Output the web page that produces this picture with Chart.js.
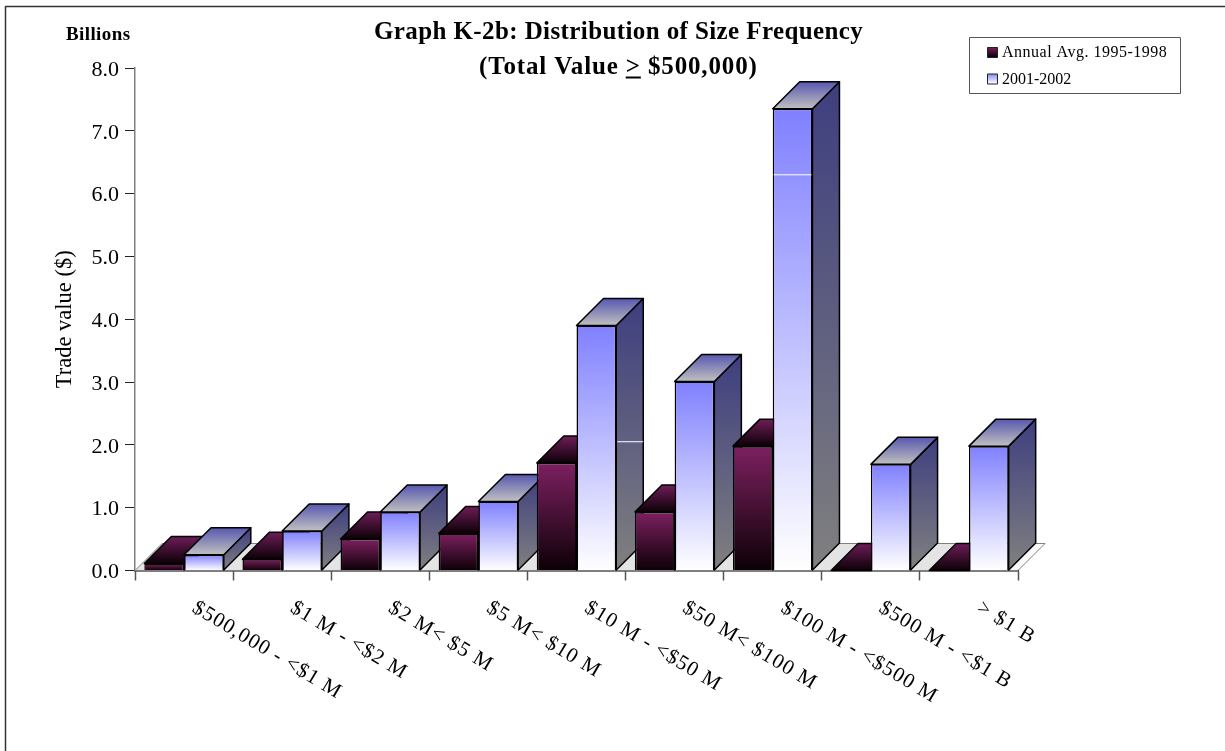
<!DOCTYPE html>
<html>
<head>
<meta charset="utf-8">
<title>Graph K-2b</title>
<script src="https://cdn.jsdelivr.net/npm/chart.js@4/dist/chart.umd.min.js"></script>
<style>
  html, body { margin: 0; padding: 0; background: #fff; }
  canvas { display: block; }
</style>
</head>
<body>
<canvas id="plot" width="1225" height="751"></canvas>
<script>
const categories = ['$500,000 - <$1 M', '$1 M - <$2 M', '$2 M< $5 M', '$5 M< $10 M', '$10 M - <$50 M', '$50 M< $100 M', '$100 M - <$500 M', '$500 M - <$1 B', '> $1 B'];
const avg9598 = [0.11, 0.18, 0.50, 0.59, 1.71, 0.93, 1.98, 0.0, 0.0];
const val0102 = [0.25, 0.63, 0.93, 1.10, 3.90, 3.01, 7.35, 1.69, 1.98];
const seriesNames = ['Annual Avg. 1995-1998', '2001-2002'];

const serif = '"Liberation Serif", "Times New Roman", serif';
const depth = 27;

const faces = [
    { front: ['#7d2060', '#0c0006'], side: ['#4a1a40', '#1a0814'], top: ['#6e1d58', '#0c0006'] },
    { front: ['#8080ff', '#ffffff'], side: ['#3e3e80', '#808080'], top: ['#5858b0', '#c0c0c0'] }
];

function vGrad(ctx, top, bottom, c0, c1) {
    const g = ctx.createLinearGradient(0, top, 0, bottom);
    g.addColorStop(0, c0);
    g.addColorStop(1, c1);
    return g;
}

function poly(ctx, pts, fill, stroke, lw) {
    ctx.beginPath();
    pts.forEach((p, i) => i ? ctx.lineTo(p[0], p[1]) : ctx.moveTo(p[0], p[1]));
    ctx.closePath();
    if (fill) { ctx.fillStyle = fill; ctx.fill(); }
    if (stroke) { ctx.strokeStyle = stroke; ctx.lineWidth = lw; ctx.stroke(); }
}

// front gradient runs from the top of each bar to the axis
function frontFill(k) {
    return (c) => {
        const y = c.chart.scales.y;
        if (c.raw === undefined || !y) return faces[k].front[0];
        const top = y.getPixelForValue(c.raw), bottom = y.getPixelForValue(0);
        if (!Number.isFinite(top) || !Number.isFinite(bottom)) return faces[k].front[0];
        return vGrad(c.chart.ctx, top, bottom, faces[k].front[0], faces[k].front[1]);
    };
}

// top and side faces for one bar, the front comes from the bar element itself
function drawBar(ctx, bar, colors) {
    const p = bar.getProps(['x', 'y', 'base', 'width']);
    const l = p.x - p.width / 2, r = p.x + p.width / 2;
    ctx.lineJoin = 'round';
    poly(ctx, [[r, p.y], [r + depth, p.y - depth], [r + depth, p.base - depth], [r, p.base]],
        vGrad(ctx, p.y - depth, p.base, colors.side[0], colors.side[1]), '#000', 1.5);
    poly(ctx, [[l, p.y], [l + depth, p.y - depth], [r + depth, p.y - depth], [r, p.y]],
        vGrad(ctx, p.y - depth, p.y, colors.top[0], colors.top[1]), '#000', 1.5);
    bar.draw(ctx);
}

const bars3d = {
    id: 'bars3d',
    beforeDatasetsDraw(chart) {
        const ctx = chart.ctx;
        const a = chart.chartArea;
        const metas = [chart.getDatasetMeta(0), chart.getDatasetMeta(1)];

        // floor, it fades out past the last group
        const floor = ctx.createLinearGradient(a.left, 0, a.right + depth, 0);
        floor.addColorStop(0, '#e4e4e4');
        floor.addColorStop(0.95, '#e4e4e4');
        floor.addColorStop(0.951, '#fafafa');
        poly(ctx, [[a.left, a.bottom], [a.left + depth, a.bottom - depth], [a.right + depth, a.bottom - depth], [a.right, a.bottom]], floor, '#808080', 1);

        // left to right so nearer bars cover the sides of the previous group
        categories.forEach((c, i) => {
            metas.forEach((m, k) => drawBar(ctx, m.data[i], faces[k]));
        });

        // light seams in the two tallest blue bars
        const y = chart.scales.y;
        const b5 = metas[1].data[4], b7 = metas[1].data[6];
        ctx.strokeStyle = '#fff';
        ctx.lineWidth = 1;
        ctx.beginPath();
        ctx.moveTo(b5.x + b5.width / 2 + 1, y.getPixelForValue(2.05));
        ctx.lineTo(b5.x + b5.width / 2 + depth, y.getPixelForValue(2.05));
        ctx.moveTo(b7.x - b7.width / 2 + 1, y.getPixelForValue(6.3));
        ctx.lineTo(b7.x + b7.width / 2 - 1, y.getPixelForValue(6.3));
        ctx.stroke();
        return false;
    },
    afterDraw(chart) {
        const ctx = chart.ctx;
        ctx.save();

        // outer frame, top and left only
        ctx.strokeStyle = '#333';
        ctx.lineWidth = 1.5;
        ctx.beginPath();
        ctx.moveTo(5.5, 751);
        ctx.lineTo(5.5, 6.5);
        ctx.lineTo(1225, 6.5);
        ctx.stroke();

        // headings
        ctx.fillStyle = '#000';
        ctx.textBaseline = 'alphabetic';
        ctx.textAlign = 'left';
        ctx.font = 'bold 25px ' + serif;
        ctx.letterSpacing = '0.4px';
        ctx.fillText('Graph K-2b: Distribution of Size Frequency', 374, 39);
        ctx.letterSpacing = '0.85px';
        ctx.fillText('(Total Value > $500,000)', 479, 74);
        const pre = ctx.measureText('(Total Value ').width;
        const gt = ctx.measureText('>').width;
        ctx.fillRect(479 + pre, 76.5, gt, 2);
        ctx.font = 'bold 19px ' + serif;
        ctx.letterSpacing = '0.4px';
        ctx.fillText('Billions', 66, 40);

        // category labels start just right of each group centre and run downhill
        const x = chart.scales.x;
        ctx.font = '21px ' + serif;
        ctx.letterSpacing = '1.1px';
        categories.forEach((c, i) => {
            ctx.save();
            ctx.translate(x.getPixelForTick(i) + 7, 611);
            ctx.rotate(31 * Math.PI / 180);
            ctx.fillText(c, 0, 0);
            ctx.restore();
        });

        // legend box
        ctx.strokeStyle = '#555';
        ctx.lineWidth = 1;
        ctx.fillStyle = '#fff';
        ctx.fillRect(969.5, 37.5, 211, 56);
        ctx.strokeRect(969.5, 37.5, 211, 56);
        ctx.font = '16px ' + serif;
        seriesNames.forEach((name, k) => {
            const sy = 47 + k * 26.5;
            ctx.fillStyle = vGrad(ctx, sy, sy + 10, faces[k].front[0], faces[k].front[1]);
            ctx.fillRect(987.5, sy + 0.5, 10, 10);
            ctx.strokeStyle = '#222';
            ctx.strokeRect(987.5, sy + 0.5, 10, 10);
            ctx.fillStyle = '#000';
            ctx.letterSpacing = k === 0 ? '0.5px' : '0px';
            ctx.fillText(name, 1002, sy + 10);
        });
        ctx.restore();
    }
};

new Chart(document.getElementById('plot'), {
    type: 'bar',
    plugins: [bars3d],
    data: {
        labels: categories,
        datasets: [{
            label: seriesNames[0],
            data: avg9598,
            borderColor: '#000',
            borderWidth: 1.5,
            backgroundColor: frontFill(0)
        }, {
            label: seriesNames[1],
            data: val0102,
            borderColor: '#000',
            borderWidth: 1.5,
            backgroundColor: frontFill(1)
        }]
    },
    options: {
        responsive: false,
        animation: false,
        layout: { padding: { top: 68, right: 207, bottom: 0, left: 0 } },
        plugins: {
            legend: { display: false },
            title: { display: false },
            tooltip: { enabled: false }
        },
        datasets: { bar: { categoryPercentage: 0.81, barPercentage: 1 } },
        scales: {
            x: {
                offset: true,
                border: { display: true, color: '#000', width: 1.5 },
                grid: { display: true, drawOnChartArea: false, offset: true, tickLength: 10, tickColor: '#555', tickWidth: 1.5 },
                ticks: { display: false, autoSkip: false },
                afterFit: (s) => { s.height = 180.5; }
            },
            y: {
                min: 0,
                max: 8,
                border: { display: true, color: '#808080', width: 1.5 },
                grid: { display: true, drawOnChartArea: false, tickLength: 10, tickColor: '#222', tickWidth: 1 },
                title: {
                    display: true,
                    text: 'Trade value ($)',
                    color: '#000',
                    font: { family: serif, size: 22.5 },
                    padding: { top: 52, bottom: 0 }
                },
                ticks: {
                    stepSize: 1,
                    padding: 6,
                    labelOffset: 2,
                    color: '#000',
                    font: { family: serif, size: 22 },
                    callback: (v) => v.toFixed(1)
                },
                afterFit: (s) => { s.width = 135; }
            }
        }
    }
});
</script>
</body>
</html>
